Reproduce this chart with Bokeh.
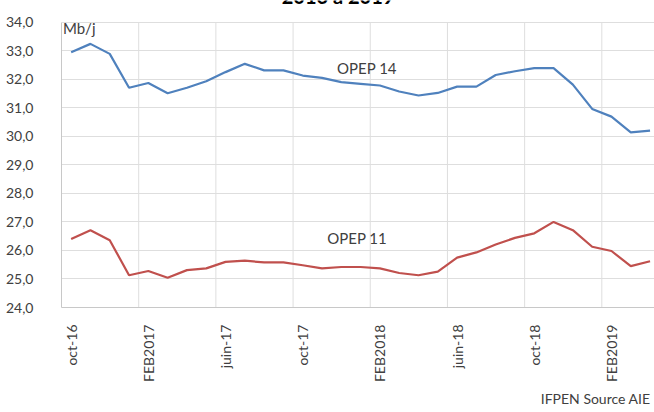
import math
from bokeh.plotting import figure
from bokeh.models import Range1d, FixedTicker, Label, Title
from bokeh.embed import file_html
from bokeh.resources import INLINE

months = ["oct-16", "nov-16", "déc-16", "janv-17", "févr-17", "mars-17", "avr-17",
          "mai-17", "juin-17", "juil-17", "août-17", "sept-17", "oct-17", "nov-17",
          "déc-17", "janv-18", "févr-18", "mars-18", "avr-18", "mai-18", "juin-18",
          "juil-18", "août-18", "sept-18", "oct-18", "nov-18", "déc-18", "janv-19",
          "févr-19", "mars-19", "avr-19"]

opep14 = [32.95, 33.24, 32.89, 31.70, 31.87, 31.51, 31.70, 31.93, 32.25, 32.54, 32.31,
          32.31, 32.13, 32.05, 31.90, 31.84, 31.78, 31.57, 31.43, 31.52, 31.74, 31.74,
          32.15, 32.28, 32.39, 32.39, 31.81, 30.96, 30.69, 30.14, 30.20]

opep11 = [26.40, 26.71, 26.36, 25.13, 25.28, 25.04, 25.31, 25.37, 25.60, 25.64, 25.58,
          25.58, 25.48, 25.37, 25.42, 25.42, 25.37, 25.21, 25.13, 25.26, 25.75, 25.93,
          26.21, 26.44, 26.60, 27.00, 26.71, 26.13, 25.98, 25.45, 25.62]

tick_months = ["oct-16", "févr-17", "juin-17", "oct-17", "févr-18", "juin-18", "oct-18", "févr-19"]
tick_labels = ["oct-16", "FEB2017", "juin-17", "oct-17", "FEB2018", "juin-18", "oct-18", "FEB2019"]
y_ticks = [24, 25, 26, 27, 28, 29, 30, 31, 32, 33, 34]

FONT = "Lato"
TXT = "#404040"
GRID = "#dedede"

x = list(range(len(months)))
tick_pos = [months.index(m) for m in tick_months]
boundaries = [t - 0.5 for t in tick_pos[1:]]
y_lo, y_hi = y_ticks[0], y_ticks[-1]

p = figure(width=654, height=412, output_backend="svg", toolbar_location=None,
           x_range=Range1d(-0.5, 30.23), y_range=Range1d(24, 34.76),
           min_border_left=61, min_border_right=0, min_border_top=0, min_border_bottom=105)
p.outline_line_color = None
p.background_fill_color = "white"
p.border_fill_color = "white"

# vertical gridlines limited to the value range
p.segment(x0=boundaries, y0=[y_lo] * len(boundaries), x1=boundaries, y1=[y_hi] * len(boundaries),
          line_color=GRID, line_width=1)

p.line(x, opep14, line_color="#4F81BD", line_width=2.2)
p.line(x, opep11, line_color="#C0504D", line_width=2.2)

# axes
p.yaxis.ticker = FixedTicker(ticks=y_ticks)
p.yaxis.bounds = (y_lo, y_hi)
p.yaxis.major_label_overrides = {v: f"{v},0" for v in y_ticks}
p.yaxis.major_tick_line_color = None
p.yaxis.minor_tick_line_color = None
p.yaxis.axis_line_color = "#c8c8c8"
p.yaxis.major_label_standoff = 22
p.yaxis.major_label_text_font = FONT
p.yaxis.major_label_text_font_size = "14px"
p.yaxis.major_label_text_color = TXT

p.xaxis.ticker = FixedTicker(ticks=tick_pos)
p.xaxis.major_label_overrides = {pos: lab for pos, lab in zip(tick_pos, tick_labels)}
p.xaxis.major_label_orientation = math.pi / 2
p.xaxis.major_tick_line_color = None
p.xaxis.minor_tick_line_color = None
p.xaxis.axis_line_color = "#c8c8c8"
p.xaxis.major_label_standoff = 11
p.xaxis.major_label_text_font = FONT
p.xaxis.major_label_text_font_size = "14px"
p.xaxis.major_label_text_color = TXT

p.ygrid.ticker = FixedTicker(ticks=y_ticks)
p.ygrid.grid_line_color = GRID
p.xgrid.grid_line_color = None

# annotations
p.add_layout(Label(x=-0.42, y=33.78, text="Mb/j", text_font=FONT, text_font_size="15px",
                   text_color=TXT, text_baseline="middle", text_align="left"))
p.add_layout(Label(x=13.78, y=32.39, text="OPEP 14", text_font=FONT, text_font_size="15px",
                   text_color=TXT, text_baseline="middle", text_align="left"))
p.add_layout(Label(x=13.27, y=26.42, text="OPEP 11", text_font=FONT, text_font_size="15px",
                   text_color=TXT, text_baseline="middle", text_align="left"))
p.add_layout(Title(text="IFPEN Source AIE", align="right", text_font=FONT,
                   text_font_size="14px", text_font_style="normal", text_color=TXT,
                   standoff=4, offset=4), "below")
p.add_layout(Label(x=13.83, y=34.93, text="2016 à 2019",
                   text_font=FONT, text_font_size="20px", text_font_style="bold",
                   text_color="black", text_baseline="alphabetic", text_align="center"))

open("out.html", "w").write(file_html(p, INLINE))
